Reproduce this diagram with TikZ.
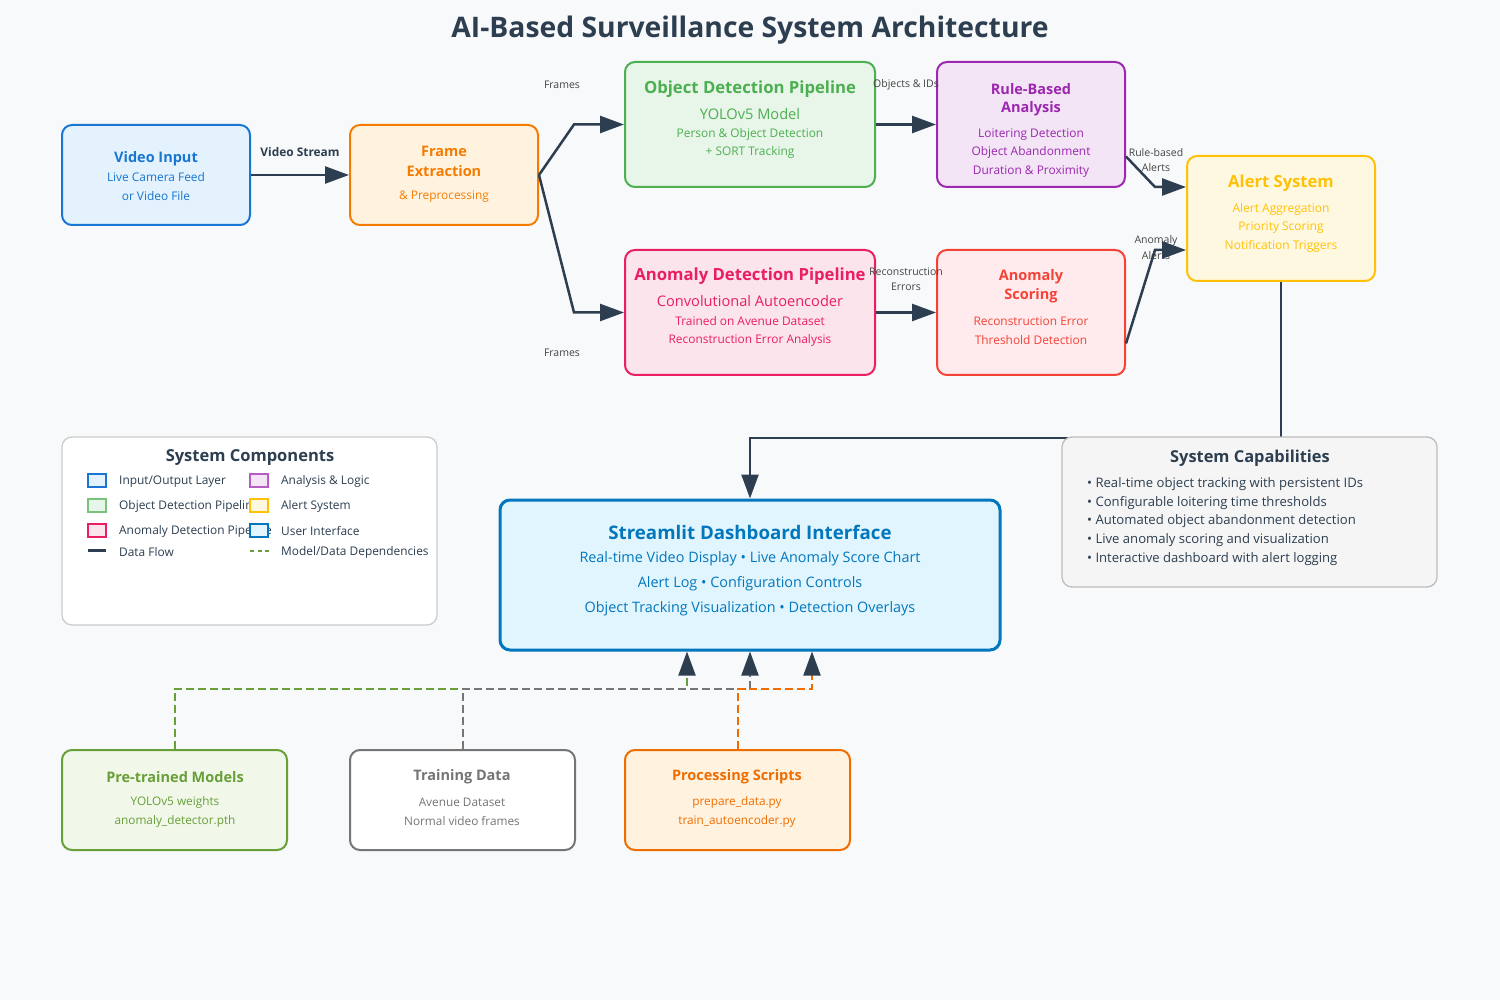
\documentclass[tikz,border=0pt]{standalone}
\usepackage{fontspec}
\setmainfont{Open Sans}
\usetikzlibrary{arrows.meta,calc}
\definecolor{bg}{HTML}{F8F9FA}
\definecolor{dark}{HTML}{2C3E50}
\definecolor{lbl}{HTML}{444444}
\definecolor{cblue}{HTML}{1976D2}\definecolor{fblue}{HTML}{E3F2FD}
\definecolor{corange}{HTML}{F57C00}\definecolor{forange}{HTML}{FFF3E0}
\definecolor{cgreen}{HTML}{4CAF50}\definecolor{fgreen}{HTML}{E8F5E9}
\definecolor{cpurple}{HTML}{9C27B0}\definecolor{fpurple}{HTML}{F3E5F5}
\definecolor{cpink}{HTML}{E91E63}\definecolor{fpink}{HTML}{FCE4EC}
\definecolor{cred}{HTML}{F44336}\definecolor{fred}{HTML}{FFEBEE}
\definecolor{cyellow}{HTML}{FFC107}\definecolor{fyellow}{HTML}{FFF8E1}
\definecolor{cdash}{HTML}{0277BD}\definecolor{fdash}{HTML}{E1F5FE}
\definecolor{colive}{HTML}{689F38}\definecolor{folive}{HTML}{F1F8E9}
\definecolor{cgray}{HTML}{757575}\definecolor{fgray}{HTML}{FFFFFF}
\definecolor{cdeep}{HTML}{EF6C00}
\definecolor{clegb}{HTML}{CCCCCC}\definecolor{ccapb}{HTML}{BDBDBD}\definecolor{fcap}{HTML}{F5F5F5}
\newcommand{\myfs}[1]{\fontsize{#1}{#1}\selectfont}
\begin{document}
\begin{tikzpicture}[x=1pt,y=-1pt,
  box/.style={draw, rounded corners=10pt, line width=2pt, inner sep=0pt},
  txt/.style={inner sep=0pt, anchor=center, yshift=-1.5pt},
  flow/.style={draw=dark, line width=2.5pt, -{Triangle[length=24pt,width=17pt]}},
  dep/.style={line width=2pt, dash pattern=on 8pt off 4pt, -{Triangle[length=24pt,width=17pt,color=dark]}},
  clab/.style={inner sep=0pt, text=lbl, font=\myfs{10.5}, align=center, yshift=-1pt},
  sw/.style={draw, line width=1.3pt, minimum width=18pt, minimum height=13pt, inner sep=0pt},
  lt/.style={inner sep=0pt, anchor=west, text=dark, font=\myfs{11.9}, yshift=-1.5pt},
  capline/.style={inner sep=0pt, anchor=west, text=dark, font=\myfs{13.1}, yshift=-1.5pt}]
\fill[bg] (0,0) rectangle (1500,1000);
\useasboundingbox (0,0) rectangle (1500,1000);

% title
\node[txt, text=dark, font=\myfs{28.3}\bfseries] (title) at (750,28.5) {AI-Based Surveillance System Architecture};

% boxes
\node[box, draw=cblue, fill=fblue, minimum width=188pt, minimum height=100pt] (vin) at (156,175) {};
\node[box, draw=corange, fill=forange, minimum width=188pt, minimum height=100pt] (fe) at (444,175) {};
\node[box, draw=cgreen, fill=fgreen, minimum width=250pt, minimum height=125pt] (od) at (750,124.5) {};
\node[box, draw=cpurple, fill=fpurple, minimum width=188pt, minimum height=125pt] (rb) at (1031,124.5) {};
\node[box, draw=cpink, fill=fpink, minimum width=250pt, minimum height=125pt] (ad) at (750,312.5) {};
\node[box, draw=cred, fill=fred, minimum width=188pt, minimum height=125pt] (sc) at (1031,312.5) {};
\node[box, draw=cyellow, fill=fyellow, minimum width=188pt, minimum height=125pt] (as) at (1281,218.5) {};

% box texts
\node[txt, text=cblue, font=\myfs{14.5}\bfseries] at (156,157) {Video Input};
\node[txt, text=cblue, font=\myfs{11.9}] at (156,176) {Live Camera Feed};
\node[txt, text=cblue, font=\myfs{11.9}] at (156,195) {or Video File};

\node[txt, text=corange, font=\myfs{14.5}\bfseries] at (444,150) {Frame};
\node[txt, text=corange, font=\myfs{14.5}\bfseries] at (444,169.5) {Extraction};
\node[txt, text=corange, font=\myfs{11.9}] at (444,195) {\& Preprocessing};

\node[txt, text=cgreen, font=\myfs{16.7}\bfseries] at (750,87.5) {Object Detection Pipeline};
\node[txt, text=cgreen, font=\myfs{14.6}] at (750,113) {YOLOv5 Model};
\node[txt, text=cgreen, font=\myfs{11.9}] at (750,133) {Person \& Object Detection};
\node[txt, text=cgreen, font=\myfs{11.9}] at (750,151) {+ SORT Tracking};

\node[txt, text=cpurple, font=\myfs{14.5}\bfseries] at (1031,88) {Rule-Based};
\node[txt, text=cpurple, font=\myfs{14.5}\bfseries] at (1031,107) {Analysis};
\node[txt, text=cpurple, font=\myfs{11.9}] at (1031,133) {Loitering Detection};
\node[txt, text=cpurple, font=\myfs{11.9}] at (1031,151) {Object Abandonment};
\node[txt, text=cpurple, font=\myfs{11.9}] at (1031,170) {Duration \& Proximity};

\node[txt, text=cpink, font=\myfs{16.7}\bfseries] at (750,274.5) {Anomaly Detection Pipeline};
\node[txt, text=cpink, font=\myfs{14.6}] at (750,300) {Convolutional Autoencoder};
\node[txt, text=cpink, font=\myfs{11.9}] at (750,320) {Trained on Avenue Dataset};
\node[txt, text=cpink, font=\myfs{11.9}] at (750,339) {Reconstruction Error Analysis};

\node[txt, text=cred, font=\myfs{14.5}\bfseries] at (1031,275.5) {Anomaly};
\node[txt, text=cred, font=\myfs{14.5}\bfseries] at (1031,294.5) {Scoring};
\node[txt, text=cred, font=\myfs{11.9}] at (1031,320) {Reconstruction Error};
\node[txt, text=cred, font=\myfs{11.9}] at (1031,339) {Threshold Detection};

\node[txt, text=cyellow, font=\myfs{16.6}\bfseries] at (1281,181.5) {Alert System};
\node[txt, text=cyellow, font=\myfs{12}] at (1281,208) {Alert Aggregation};
\node[txt, text=cyellow, font=\myfs{12}] at (1281,226) {Priority Scoring};
\node[txt, text=cyellow, font=\myfs{12}] at (1281,245) {Notification Triggers};

% data flow connectors
\draw[flow] (vin.east) -- (fe.west);
\node[txt, text=dark, font=\myfs{11.9}\bfseries] (vs) at (300,151) {Video Stream};
\draw[flow] (fe.east) -- ([xshift=-50pt]od.west) -- (od.west);
\draw[flow] (fe.east) -- ([xshift=-50pt]ad.west) -- (ad.west);
\node[clab] (f1) at (562,84) {Frames};
\node[clab] (f2) at (562,352) {Frames};
\draw[flow] (od.east) -- (rb.west);
\node[clab] (oi) at (906,84) {Objects \& IDs};
\draw[flow] (ad.east) -- (sc.west);
\node[clab] (re1) at (906,271) {Reconstruction};
\node[clab] (re2) at (906,286) {Errors};
\node[clab] (ra1) at (1156,152) {Rule-based};
\node[clab] (ra2) at (1156,167) {Alerts};
\draw[flow] ([yshift=-32pt]rb.east) -- ([xshift=-31pt,yshift=31.5pt]as.west) -- ([yshift=31.5pt]as.west);
\node[clab] (aa1) at (1156,240) {Anomaly};
\node[clab] (aa2) at (1156,255) {Alerts};
\draw[flow] ([yshift=-31pt]sc.east) -- ([xshift=-31pt,yshift=-31.5pt]as.west) -- ([yshift=-31.5pt]as.west);

% dashboard
\node[box, draw=cdash, fill=fdash, line width=3pt, minimum width=500pt, minimum height=150pt] (dash) at (750,575) {};
\draw[flow] (as.south) -- ++(0,156) -| (dash.north);
\node[txt, text=cdash, font=\myfs{18.7}\bfseries] at (750,530.5) {Streamlit Dashboard Interface};
\node[txt, text=cdash, font=\myfs{14.4}] at (750,557) {Real-time Video Display • Live Anomaly Score Chart};
\node[txt, text=cdash, font=\myfs{14.4}] at (750,582) {Alert Log • Configuration Controls};
\node[txt, text=cdash, font=\myfs{14.4}] at (750,607) {Object Tracking Visualization • Detection Overlays};

% capabilities
\node[box, draw=ccapb, fill=fcap, line width=1.3pt, minimum width=375pt, minimum height=150pt] (caps) at (1249.5,512) {};
\node[txt, text=dark, font=\myfs{16.4}\bfseries] at (1250,456.5) {System Capabilities};
\node[capline] at (1087,483) {• Real-time object tracking with persistent IDs};
\node[capline] at (1087,501.5) {• Configurable loitering time thresholds};
\node[capline] at (1087,520) {• Automated object abandonment detection};
\node[capline] at (1087,539) {• Live anomaly scoring and visualization};
\node[capline] at (1087,558) {• Interactive dashboard with alert logging};

% legend
\node[box, draw=clegb, fill=white, line width=1.3pt, minimum width=375pt, minimum height=188pt] (leg) at (249.5,531) {};
\node[txt, text=dark, font=\myfs{16.5}\bfseries] at (250,456.5) {System Components};
\node[sw, draw=cblue, fill=fblue] (s1) at (97,480.5) {};
\node[sw, draw=cgreen!75, fill=fgreen] (s2) at (97,505.5) {};
\node[sw, draw=cpink, fill=fpink] (s3) at (97,530.5) {};
\node[lt] at (119,480) {Input/Output Layer};
\node[lt] at (119,505) {Object Detection Pipeline};
\node[lt] at (119,530) {Anomaly Detection Pipeline};
\node[lt] at (119,551) {Data Flow};
\draw[dark, line width=2.5pt] (88,550.5) -- (106,550.5);
\node[sw, draw=cpurple!75, fill=fpurple] (s4) at (259,480.5) {};
\node[sw, draw=cyellow, fill=fyellow] (s5) at (259,505.5) {};
\node[sw, draw=cdash, fill=fdash] (s6) at (259,530.5) {};
\draw[colive, line width=2pt, dash pattern=on 4pt off 3.5pt] (250,550.5) -- (269,550.5);
\node[lt] at (281,480) {Analysis \& Logic};
\node[lt] at (281,505) {Alert System};
\node[lt] at (281,530) {User Interface};
\node[lt] at (281,551) {Model/Data Dependencies};

% bottom boxes
\node[box, draw=colive, fill=folive, minimum width=225pt, minimum height=100pt] (pm) at (174.5,800) {};
\node[box, draw=cgray, fill=fgray, minimum width=225pt, minimum height=100pt] (td) at (462.5,800) {};
\node[box, draw=cdeep, fill=forange, minimum width=225pt, minimum height=100pt] (ps) at (737.5,800) {};
\node[txt, text=colive, font=\myfs{14.5}\bfseries] at (175,775.5) {Pre-trained Models};
\node[txt, text=colive, font=\myfs{11.8}] at (175,801) {YOLOv5 weights};
\node[txt, text=colive, font=\myfs{11.8}] at (175,820) {anomaly\_detector.pth};
\node[txt, text=cgray, font=\myfs{14.5}\bfseries] at (462,775.5) {Training Data};
\node[txt, text=cgray, font=\myfs{11.8}] at (462,801) {Avenue Dataset};
\node[txt, text=cgray, font=\myfs{11.8}] at (462,820) {Normal video frames};
\node[txt, text=cdeep, font=\myfs{14.5}\bfseries] at (737,775.5) {Processing Scripts};
\node[txt, text=cdeep, font=\myfs{11.8}] at (737,801) {prepare\_data.py};
\node[txt, text=cdeep, font=\myfs{11.8}] at (737,820) {train\_autoencoder.py};

% dependencies
\draw[dep, draw=colive] (pm.north) |- ($(dash.south)+(-63,37)$) -- ($(dash.south)+(-63,0)$);
\draw[dep, draw=cgray] (td.north) |- ($(dash.south)+(0,37)$) -- (dash.south);
\draw[dep, draw=cdeep] (ps.north) |- ($(dash.south)+(62,37)$) -- ($(dash.south)+(62,0)$);
\end{tikzpicture}
\end{document}
